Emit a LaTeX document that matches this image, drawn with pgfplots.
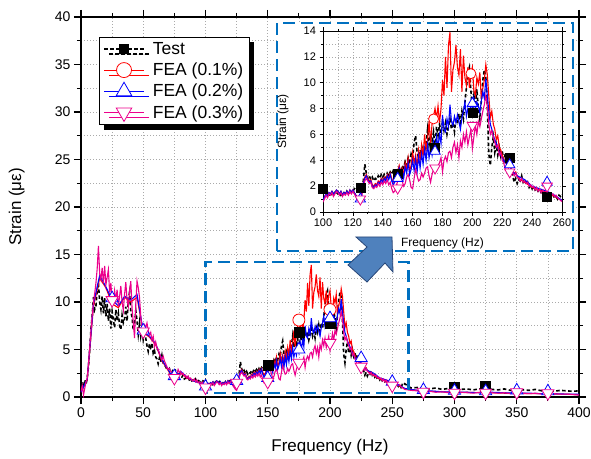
\documentclass[border=0pt]{standalone}
\usepackage{fontspec}
\setmainfont{Liberation Sans}
\usepackage{pgfplots}
\pgfplotsset{compat=1.18}
\usepackage{pgfplotstable}
\usetikzlibrary{shadows}

\definecolor{boxblue}{RGB}{0,112,192}
\definecolor{arrowfill}{RGB}{79,129,189}
\definecolor{arrowedge}{RGB}{40,70,120}
\definecolor{gridgray}{RGB}{170,170,170}

% ---------- measured strain (test) ----------
\pgfplotstableread[row sep=\\]{x y\\
0 1.2\\1 1.6\\2 1.0\\3 1.8\\4 1.3\\5 2.0\\6 3.2\\7 5.0\\8 7.2\\9 8.6\\
10 10.5\\11 9.2\\12 9.6\\13 11.2\\14 12.0\\15 10.0\\16 9.2\\17 10.6\\18 8.8\\19 10.4\\
20 8.5\\21 9.8\\22 8.0\\23 9.3\\24 7.2\\25 9.0\\26 8.1\\27 7.3\\28 9.2\\29 8.0\\
30 8.8\\31 7.5\\32 7.1\\33 8.6\\34 7.8\\35 8.2\\36 9.5\\37 8.0\\38 10.2\\39 11.0\\
40 9.0\\41 8.4\\42 7.0\\43 7.6\\44 9.1\\45 8.0\\46 6.6\\47 7.8\\48 6.4\\49 7.2\\
50 6.0\\51 6.6\\52 6.2\\53 5.4\\54 4.8\\55 5.6\\56 5.0\\57 5.7\\58 4.6\\59 4.9\\
60 4.2\\61 4.0\\62 3.5\\63 4.1\\64 3.7\\65 4.4\\66 3.6\\67 3.3\\68 3.2\\69 2.9\\
70 2.8\\71 3.0\\72 2.7\\73 2.6\\74 2.9\\75 2.6\\76 2.8\\77 2.6\\78 2.4\\79 2.3\\
80 2.2\\81 2.1\\82 2.3\\83 1.9\\84 2.0\\85 1.9\\86 2.1\\87 1.8\\88 1.9\\89 1.7\\
90 1.8\\91 1.7\\92 1.9\\93 1.6\\94 1.8\\95 1.6\\96 1.7\\97 1.5\\98 1.7\\99 1.6\\
100 1.8\\101 1.5\\102 1.6\\103 1.3\\104 1.4\\105 1.2\\106 1.5\\107 1.3\\108 1.6\\109 1.5\\
110 1.4\\111 1.6\\112 1.3\\113 1.4\\114 1.5\\115 1.3\\116 1.6\\117 1.4\\118 1.5\\119 1.7\\
120 1.6\\121 1.8\\122 1.7\\123 1.9\\124 1.8\\125 1.9\\126 2.1\\127 2.4\\128 3.7\\129 3.0\\
130 2.6\\131 2.8\\132 2.5\\133 2.7\\134 2.4\\135 2.6\\136 2.5\\137 2.8\\138 2.6\\139 2.9\\
140 2.7\\141 2.9\\142 2.6\\143 3.0\\144 2.8\\145 3.1\\146 2.9\\147 3.2\\148 3.0\\149 3.1\\
150 3.0\\151 3.3\\152 3.1\\153 3.6\\154 3.4\\155 3.9\\156 3.6\\157 4.2\\158 3.9\\159 4.5\\
160 4.2\\161 5.4\\162 5.9\\163 4.6\\164 4.2\\165 4.8\\166 4.4\\167 5.0\\168 4.7\\169 5.3\\
170 6.4\\171 5.2\\172 6.0\\173 5.5\\174 6.2\\175 5.0\\176 6.6\\177 5.9\\178 6.8\\179 6.1\\
180 7.0\\181 6.3\\182 6.9\\183 6.0\\184 6.6\\185 7.2\\186 6.4\\187 6.9\\188 6.2\\189 7.3\\
190 6.8\\191 7.6\\192 6.9\\193 7.8\\194 7.2\\195 8.5\\196 9.6\\197 10.8\\198 11.2\\199 9.4\\
200 7.8\\201 9.0\\202 8.2\\203 9.5\\204 8.0\\205 7.2\\206 8.6\\207 10.2\\208 11.0\\209 10.5\\
210 8.0\\211 4.5\\212 3.6\\213 5.0\\214 5.8\\215 4.6\\216 5.2\\217 4.4\\218 5.0\\219 4.3\\
220 4.7\\221 4.0\\222 4.5\\223 3.8\\224 4.3\\225 4.2\\226 3.4\\227 2.8\\228 2.3\\229 2.6\\
230 2.2\\231 2.5\\232 2.4\\233 2.8\\234 2.3\\235 2.5\\236 2.1\\237 2.3\\238 1.9\\239 2.1\\
240 1.8\\241 2.0\\242 1.7\\243 1.8\\244 1.6\\245 1.7\\246 1.5\\247 1.6\\248 1.4\\249 1.3\\
250 1.2\\251 1.3\\252 1.4\\253 1.2\\254 1.3\\255 1.1\\256 1.2\\257 1.0\\258 1.3\\259 1.2\\
260 1.4\\265 0.95\\270 1.0\\275 0.9\\280 0.85\\285 0.95\\290 0.8\\295 0.9\\300 1.0\\
305 0.8\\310 0.85\\315 0.75\\320 0.85\\325 1.0\\330 0.8\\335 0.75\\340 0.85\\345 0.7\\
350 0.8\\355 0.75\\360 0.7\\365 0.8\\370 0.65\\375 0.7\\380 0.6\\385 0.7\\390 0.65\\
395 0.6\\400 0.65\\
}\testdata

% ---------- FEA, damping 0.1 % ----------
\pgfplotstableread[row sep=\\]{x y\\
0 0.5\\5 1.8\\10 9.5\\15 12.5\\20 11.5\\25 9.8\\30 9.4\\35 10.5\\40 10.0\\45 10.5\\
50 6.8\\55 6.3\\60 5.5\\65 3.8\\70 2.8\\75 1.6\\80 2.6\\85 2.0\\90 1.7\\95 1.5\\
100 0.9\\101 1.1\\102 1.4\\103 1.2\\104 1.5\\105 1.4\\106 1.6\\107 1.3\\108 1.5\\109 1.7\\
110 1.6\\111 1.4\\112 1.6\\113 1.3\\114 1.5\\115 1.4\\116 1.6\\117 1.4\\118 1.7\\119 1.5\\
120 1.7\\121 1.5\\122 1.3\\123 1.1\\124 1.0\\125 0.9\\126 1.5\\127 2.3\\128 2.7\\129 2.9\\
130 2.6\\131 2.4\\132 2.5\\133 2.1\\134 2.0\\135 2.2\\136 2.1\\137 2.4\\138 2.3\\139 2.6\\
140 2.4\\141 2.7\\142 2.5\\143 2.9\\144 2.6\\145 3.0\\146 2.6\\147 2.3\\148 2.5\\149 2.9\\
150 3.2\\151 3.6\\152 3.0\\153 3.4\\154 2.8\\155 3.8\\156 3.3\\157 4.2\\158 3.2\\159 3.6\\
160 4.6\\161 3.8\\162 4.4\\163 3.5\\164 4.8\\165 4.0\\166 5.2\\167 4.3\\168 6.0\\169 4.8\\
170 5.6\\171 7.0\\172 5.3\\173 6.8\\174 7.4\\175 8.0\\176 7.2\\177 8.2\\178 6.9\\179 8.0\\
180 10.2\\181 9.0\\182 12.0\\183 9.6\\184 12.9\\185 13.9\\186 9.3\\187 11.0\\188 11.6\\189 12.9\\
190 11.2\\191 10.6\\192 12.6\\193 9.3\\194 12.1\\195 10.4\\196 9.8\\197 11.2\\198 9.6\\199 10.7\\
200 11.2\\201 9.4\\202 9.0\\203 10.4\\204 9.9\\205 10.8\\206 8.7\\207 9.6\\208 10.2\\209 11.4\\
210 10.6\\211 9.0\\212 7.3\\213 7.8\\214 6.8\\215 6.4\\216 5.6\\217 5.9\\218 5.0\\219 4.8\\
220 4.4\\221 4.1\\222 3.8\\223 4.0\\224 3.6\\225 3.5\\226 3.4\\227 3.1\\228 3.0\\229 3.1\\
230 2.8\\231 2.7\\232 2.5\\235 2.3\\240 1.9\\245 1.7\\250 1.5\\255 1.2\\260 0.9\\
270 0.7\\280 0.6\\290 0.55\\300 0.45\\310 0.5\\320 0.45\\330 0.45\\340 0.4\\350 0.4\\
360 0.35\\370 0.35\\380 0.3\\390 0.3\\400 0.25\\
}\feaone

% ---------- FEA, damping 0.2 % ----------
\pgfplotstableread[row sep=\\]{x y\\
0 0.5\\5 1.9\\10 9.8\\15 12.8\\20 11.6\\25 10.2\\30 9.6\\35 10.6\\40 10.2\\45 10.8\\
50 6.9\\55 6.4\\60 5.6\\65 3.9\\70 2.9\\75 1.7\\80 2.7\\85 2.1\\90 1.7\\95 1.5\\
100 0.9\\101 1.2\\102 1.4\\103 1.2\\104 1.5\\105 1.4\\106 1.6\\107 1.4\\108 1.5\\109 1.7\\
110 1.6\\111 1.4\\112 1.6\\113 1.3\\114 1.5\\115 1.4\\116 1.6\\117 1.4\\118 1.7\\119 1.5\\
120 1.7\\121 1.5\\122 1.3\\123 1.1\\124 1.0\\125 0.9\\126 1.4\\127 2.2\\128 2.6\\129 2.8\\
130 2.5\\131 2.3\\132 2.4\\133 2.0\\134 1.9\\135 2.1\\136 2.0\\137 2.3\\138 2.2\\139 2.5\\
140 2.3\\141 2.6\\142 2.4\\143 2.8\\144 2.5\\145 2.9\\146 2.4\\147 2.1\\148 2.3\\149 2.7\\
150 2.9\\151 3.4\\152 2.8\\153 3.2\\154 2.6\\155 3.5\\156 3.0\\157 3.8\\158 2.9\\159 3.3\\
160 4.0\\161 3.2\\162 4.1\\163 3.1\\164 4.3\\165 3.4\\166 4.5\\167 3.7\\168 4.9\\169 4.0\\
170 5.2\\171 4.2\\172 5.0\\173 4.4\\174 5.4\\175 4.7\\176 5.8\\177 5.0\\178 6.0\\179 5.3\\
180 7.5\\181 6.4\\182 6.2\\183 7.2\\184 6.6\\185 8.3\\186 7.0\\187 6.7\\188 7.4\\189 6.9\\
190 7.5\\191 7.0\\192 6.4\\193 7.3\\194 7.8\\195 8.5\\196 7.4\\197 8.0\\198 7.6\\199 8.4\\
200 8.0\\201 8.8\\202 7.9\\203 8.5\\204 8.2\\205 7.7\\206 8.6\\207 9.3\\208 8.8\\209 10.3\\
210 9.0\\211 7.8\\212 6.8\\213 6.4\\214 5.9\\215 5.6\\216 5.3\\217 5.0\\218 4.6\\219 4.4\\
220 4.2\\221 4.0\\222 3.8\\223 3.9\\224 3.7\\225 3.6\\226 3.3\\227 3.1\\228 3.0\\229 3.0\\
230 2.8\\235 2.5\\240 2.0\\245 1.8\\250 1.6\\255 1.3\\260 0.9\\
270 0.7\\280 0.65\\290 0.55\\300 0.5\\310 0.5\\320 0.45\\330 0.5\\340 0.45\\350 0.4\\
360 0.4\\370 0.35\\380 0.35\\390 0.3\\400 0.3\\
}\featwo

% ---------- FEA, damping 0.3 % ----------
\pgfplotstableread[row sep=\\]{x y\\
0 0.6\\1 1.2\\2 0.2\\3 0.9\\4 1.6\\5 2.0\\6 3.5\\7 5.2\\8 7.0\\9 8.6\\
10 10.0\\11 10.9\\12 12.0\\13 13.5\\14 15.9\\15 13.0\\16 12.4\\17 13.6\\18 12.0\\19 13.8\\
20 11.8\\21 12.6\\22 13.4\\23 11.0\\24 12.0\\25 10.0\\26 9.8\\27 11.2\\28 10.2\\29 11.3\\
30 9.5\\31 10.6\\32 11.7\\33 10.0\\34 9.1\\35 10.8\\36 12.1\\37 10.2\\38 9.5\\39 11.2\\
40 12.2\\41 9.4\\42 7.8\\43 6.2\\44 9.8\\45 12.2\\46 11.5\\47 10.5\\48 8.5\\49 7.2\\
50 7.0\\51 7.6\\52 7.3\\53 7.8\\54 7.0\\55 6.5\\56 6.8\\57 6.0\\58 6.4\\59 5.3\\
60 5.8\\61 5.2\\62 5.0\\63 4.6\\64 4.2\\65 3.9\\66 4.3\\67 3.8\\68 3.5\\69 3.2\\
70 2.9\\71 3.0\\72 2.7\\73 2.6\\74 2.4\\75 1.5\\76 1.9\\77 2.4\\78 2.9\\79 2.6\\
80 2.7\\81 2.4\\82 2.5\\83 2.2\\84 2.3\\85 2.0\\86 2.2\\87 1.9\\88 2.0\\89 1.8\\
90 1.7\\91 1.9\\92 1.6\\93 1.8\\94 1.5\\95 1.6\\96 1.5\\97 1.4\\98 1.6\\99 1.2\\
100 0.8\\101 1.0\\102 1.3\\103 1.1\\104 1.4\\105 1.3\\106 1.5\\107 1.2\\108 1.4\\109 1.6\\
110 1.5\\111 1.3\\112 1.5\\113 1.2\\114 1.4\\115 1.3\\116 1.5\\117 1.3\\118 1.6\\119 1.4\\
120 1.6\\121 1.4\\122 1.2\\123 1.0\\124 0.8\\125 0.7\\126 1.3\\127 2.0\\128 2.4\\129 2.6\\
130 2.4\\131 2.2\\132 2.3\\133 1.9\\134 1.8\\135 2.0\\136 1.9\\137 2.2\\138 2.0\\139 2.3\\
140 2.1\\141 2.4\\142 2.2\\143 2.5\\144 2.1\\145 2.3\\146 1.8\\147 1.5\\148 1.6\\149 2.0\\
150 2.4\\151 2.8\\152 3.0\\153 2.4\\154 2.0\\155 2.2\\156 2.7\\157 2.9\\158 2.5\\159 1.9\\
160 1.8\\161 2.6\\162 3.3\\163 2.8\\164 2.4\\165 2.5\\166 3.0\\167 2.7\\168 3.0\\169 3.4\\
170 3.5\\171 2.8\\172 2.3\\173 2.9\\174 3.3\\175 3.5\\176 3.2\\177 3.6\\178 3.8\\179 4.2\\
180 3.1\\181 4.0\\182 4.3\\183 3.9\\184 4.6\\185 4.7\\186 4.2\\187 5.0\\188 5.4\\189 4.6\\
190 5.2\\191 4.2\\192 5.5\\193 5.0\\194 6.0\\195 5.4\\196 6.2\\197 5.2\\198 5.8\\199 6.4\\
200 4.9\\201 5.8\\202 6.7\\203 6.0\\204 7.0\\205 6.6\\206 7.2\\207 7.8\\208 8.3\\209 9.0\\
210 8.2\\211 6.8\\212 6.0\\213 6.3\\214 5.8\\215 5.4\\216 5.0\\217 5.2\\218 4.4\\219 4.6\\
220 4.0\\221 3.8\\222 3.3\\223 3.6\\224 3.4\\225 3.0\\226 3.2\\227 3.0\\228 2.8\\229 3.0\\
230 2.7\\231 2.6\\232 2.4\\233 2.6\\234 2.3\\235 2.4\\236 2.2\\237 2.3\\238 2.0\\239 2.1\\
240 1.9\\241 2.0\\242 1.7\\243 1.9\\244 1.6\\245 1.8\\246 1.5\\247 1.7\\248 1.5\\249 1.6\\
250 1.6\\251 1.4\\252 1.5\\253 1.3\\254 1.4\\255 1.2\\256 1.3\\257 1.1\\258 1.0\\259 0.9\\
260 0.8\\265 0.7\\270 0.65\\275 0.45\\280 0.6\\285 0.5\\290 0.55\\295 0.45\\300 0.35\\
305 0.5\\310 0.45\\315 0.4\\320 0.5\\325 0.35\\330 0.45\\335 0.4\\340 0.45\\345 0.35\\
350 0.35\\355 0.4\\360 0.35\\365 0.4\\370 0.3\\375 0.3\\380 0.35\\385 0.3\\390 0.3\\
395 0.25\\400 0.2\\
}\feathree

% ---------- symbol positions, full range ----------
\pgfplotstableread[row sep=\\]{x y\\150 3.3\\175 6.8\\200 7.8\\300 1.05\\325 1.15\\}\testmk
\pgfplotstableread[row sep=\\]{x y\\175 8.1\\200 9.2\\}\feaonemk
\pgfplotstableread[row sep=\\]{x y\\25 10.4\\50 7.0\\75 2.2\\100 1.1\\125 1.7\\150 2.0\\175 5.0\\200 8.3\\225 4.1\\250 1.6\\275 0.75\\300 0.65\\325 0.6\\350 0.7\\375 0.6\\}\featwomk
\pgfplotstableread[row sep=\\]{x y\\25 10.2\\50 6.9\\75 2.0\\100 1.0\\125 1.5\\150 1.6\\175 3.6\\200 5.7\\225 3.2\\250 1.2\\275 0.55\\300 0.45\\325 0.45\\350 0.5\\375 0.4\\}\feathreemk

% ---------- symbol positions, zoomed range ----------
\pgfplotstableread[row sep=\\]{x y\\100 1.8\\125 1.9\\150 3.0\\175 5.0\\200 7.7\\225 4.2\\250 1.2\\}\testmkz
\pgfplotstableread[row sep=\\]{x y\\174 7.2\\199 10.7\\}\feaonemkz
\pgfplotstableread[row sep=\\]{x y\\125 1.0\\150 2.6\\175 4.7\\200 8.4\\225 3.65\\250 2.3\\}\featwomkz
\pgfplotstableread[row sep=\\]{x y\\125 1.0\\150 1.85\\175 3.4\\200 6.7\\225 3.1\\250 2.0\\}\feathreemkz

\pgfplotsset{
  testline/.style={black, line width=1.6pt, dash pattern=on 3.5pt off 2.5pt, mark=none, forget plot},
  fealine/.style={#1, line width=1.1pt, mark=none, forget plot},
  testmark/.style={only marks, forget plot, mark=square*, mark size=#1,
    mark options={solid, draw=black, fill=black}},
  circmark/.style={only marks, forget plot, mark=*, mark size=#1,
    mark options={solid, draw=red, fill=white, line width=0.8pt}},
  upmark/.style={only marks, forget plot, mark=triangle*, mark size=#1,
    mark options={solid, draw=blue, fill=white, line width=0.8pt}},
  downmark/.style={only marks, forget plot, mark=triangle*, mark size=#1,
    mark options={solid, draw=magenta, fill=white, line width=0.8pt, rotate=180}},
  dotgrid/.style={
    grid=both,
    major grid style={gridgray, line width=0.6pt, dash pattern=on 1.2pt off 1.8pt},
    minor grid style={gridgray, line width=0.6pt, dash pattern=on 1.2pt off 1.8pt},
  },
}

\begin{document}
\begin{tikzpicture}
\useasboundingbox (-81pt,-61pt) rectangle (510pt,397pt);

\begin{axis}[
  at={(0pt,0pt)}, anchor=south west,
  scale only axis, width=498pt, height=380pt,
  xmin=0, xmax=400, ymin=0, ymax=40,
  xtick={0,50,...,400}, ytick={0,5,...,40},
  minor x tick num=1, minor y tick num=1,
  dotgrid,
  tick align=outside,
  major tick length=7pt, minor tick length=4pt,
  axis line style={line width=1.3pt},
  every tick/.style={black, line width=1.1pt},
  /pgf/number format/assume math mode=true,
  tick label style={font=\fontsize{14}{16}\selectfont},
  xlabel={Frequency (Hz)}, ylabel={Strain (με)},
  label style={font=\fontsize{17}{20}\selectfont},
  xlabel style={at={(axis description cs:0.5,-0.132)}, anchor=center},
  ylabel style={at={(axis description cs:-0.129,0.5)}, anchor=center},
  legend style={at={(0.036,0.947)}, anchor=north west, draw=black,
    line width=0.6pt, fill=white, font=\fontsize{17.5}{20}\selectfont,
    inner xsep=4pt, inner ysep=3pt, row sep=3pt,
    /tikz/every odd column/.append style={column sep=6pt},
    general shadow={fill=black, shadow xshift=5pt, shadow yshift=-5pt}},
  legend cell align=left,
  legend image code/.code={\draw[mark repeat=2,mark phase=2,#1]
    plot coordinates {(0pt,0pt) (20pt,0pt) (40pt,0pt)};},
]
\addlegendimage{black, line width=1.6pt, dash pattern=on 3.5pt off 2.5pt,
  mark=square*, mark size=4pt, mark options={solid, fill=black}}
\addlegendentry{Test}
\addlegendimage{red, line width=1.1pt, mark=*, mark size=7.5pt,
  mark options={fill=white, line width=0.8pt}}
\addlegendentry{FEA (0.1\%)}
\addlegendimage{blue, line width=1.1pt, mark=triangle*, mark size=9pt,
  mark options={fill=white, line width=0.8pt}}
\addlegendentry{FEA (0.2\%)}
\addlegendimage{magenta, line width=1.1pt, mark=triangle*, mark size=9pt,
  mark options={fill=white, line width=0.8pt, rotate=180}}
\addlegendentry{FEA (0.3\%)}

\addplot[testline] table {\testdata};
\addplot[testmark=5pt] table {\testmk};
\addplot[fealine=red] table {\feaone};
\addplot[circmark=6pt] table {\feaonemk};
\addplot[fealine=blue] table {\featwo};
\addplot[upmark=7pt] table {\featwomk};
\addplot[fealine=magenta] table {\feathree};
\addplot[downmark=7pt] table {\feathreemk};

% zoomed frequency band
\draw[boxblue, line width=2.2pt, dash pattern=on 12pt off 6pt]
  (axis cs:100,0.4) rectangle (axis cs:263,14.2);
\end{axis}

% frame of the zoomed view
\fill[white] (196pt,146pt) rectangle (492pt,374pt);
\draw[boxblue, line width=2.2pt, dash pattern=on 12pt off 6pt]
  (196pt,146pt) rectangle (492pt,374pt);

\begin{axis}[
  at={(242pt,185pt)}, anchor=south west,
  scale only axis, width=239pt, height=181pt,
  xmin=100, xmax=260, ymin=0, ymax=14,
  xtick={100,120,...,260}, ytick={0,2,...,14},
  minor x tick num=1, minor y tick num=1,
  dotgrid,
  tick align=outside,
  major tick length=3.5pt, minor tick length=2pt,
  axis line style={line width=0.8pt},
  every tick/.style={black, line width=0.7pt},
  /pgf/number format/assume math mode=true,
  tick label style={font=\fontsize{11}{13}\selectfont},
  xlabel={Frequency (Hz)}, ylabel={Strain (με)},
  label style={font=\fontsize{12}{14}\selectfont},
  xlabel style={at={(axis description cs:0.5,-0.171)}, anchor=center},
  ylabel style={at={(axis description cs:-0.167,0.5)}, anchor=center},
]
\addplot[testline] table {\testdata};
\addplot[testmark=4.5pt] table {\testmkz};
\addplot[fealine=red] table {\feaone};
\addplot[circmark=5pt] table {\feaonemkz};
\addplot[fealine=blue] table {\featwo};
\addplot[upmark=6pt] table {\featwomkz};
\addplot[fealine=magenta] table {\feathree};
\addplot[downmark=6pt] table {\feathreemkz};
\end{axis}

% pointer from the band to the zoomed view
\filldraw[fill=arrowfill, draw=arrowedge, line width=0.8pt]
  (275pt,160pt) -- (311pt,160pt) -- (312pt,125pt) -- (304pt,134pt)
  -- (286pt,115pt) -- (267pt,132pt) -- (286pt,150pt) -- cycle;
\end{tikzpicture}
\end{document}
